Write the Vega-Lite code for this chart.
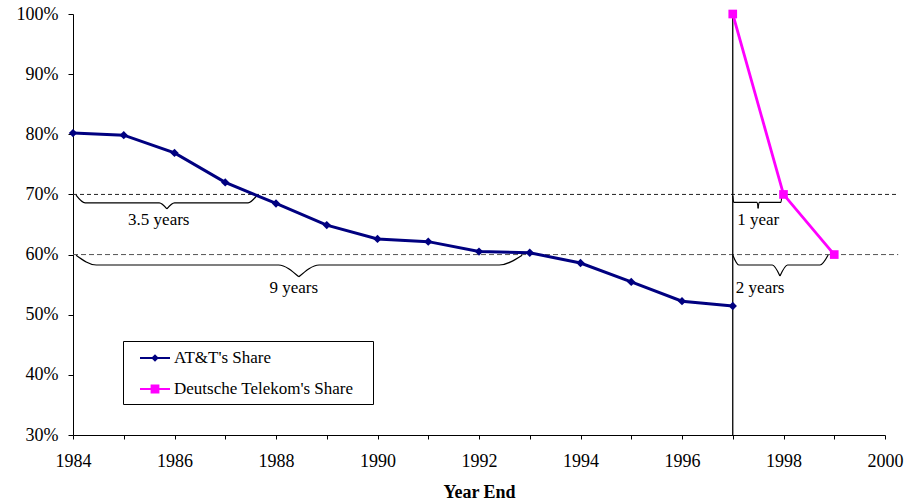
{
  "$schema": "https://vega.github.io/schema/vega-lite/v6.json",
  "width": 812,
  "height": 421,
  "autosize": "none",
  "padding": {"left": 73, "top": 14, "right": 21, "bottom": 69},
  "background": "white",
  "config": {
    "view": {"stroke": null},
    "font": "Liberation Serif",
    "axis": {"grid": false, "domainColor": "black", "tickColor": "black", "labelColor": "black", "titleColor": "black", "labelFont": "Liberation Serif", "titleFont": "Liberation Serif", "labelFontSize": 18}
  },
  "datasets": {
    "share": [
      {"series": "AT&T's Share", "year": 1984, "pct": 80.2},
      {"series": "AT&T's Share", "year": 1985, "pct": 79.85},
      {"series": "AT&T's Share", "year": 1986, "pct": 76.9},
      {"series": "AT&T's Share", "year": 1987, "pct": 72.0},
      {"series": "AT&T's Share", "year": 1988, "pct": 68.5},
      {"series": "AT&T's Share", "year": 1989, "pct": 64.9},
      {"series": "AT&T's Share", "year": 1990, "pct": 62.6},
      {"series": "AT&T's Share", "year": 1991, "pct": 62.15},
      {"series": "AT&T's Share", "year": 1992, "pct": 60.5},
      {"series": "AT&T's Share", "year": 1993, "pct": 60.3},
      {"series": "AT&T's Share", "year": 1994, "pct": 58.6},
      {"series": "AT&T's Share", "year": 1995, "pct": 55.45},
      {"series": "AT&T's Share", "year": 1996, "pct": 52.25},
      {"series": "AT&T's Share", "year": 1997, "pct": 51.45},
      {"series": "Deutsche Telekom's Share", "year": 1997, "pct": 100},
      {"series": "Deutsche Telekom's Share", "year": 1998, "pct": 70},
      {"series": "Deutsche Telekom's Share", "year": 1999, "pct": 60}
    ],
    "refs": [
      {"year": 1984, "year2": 2000.26, "pct": 70},
      {"year": 1984, "year2": 2000.26, "pct": 60}
    ],
    "vline": [
      {"year": 1997, "pct": 30, "pct2": 100}
    ],
    "braces": [
      {"brace": "b1L", "ord": 1, "year": 1984.06, "pct": 69.9},
      {"brace": "b1L", "ord": 2, "year": 1984.24, "pct": 68.6},
      {"brace": "b1L", "ord": 3, "year": 1985.7, "pct": 68.6},
      {"brace": "b1L", "ord": 4, "year": 1985.85, "pct": 67.6},
      {"brace": "b1R", "ord": 1, "year": 1985.85, "pct": 67.6},
      {"brace": "b1R", "ord": 2, "year": 1986.0, "pct": 68.6},
      {"brace": "b1R", "ord": 3, "year": 1987.45, "pct": 68.6},
      {"brace": "b1R", "ord": 4, "year": 1987.63, "pct": 69.9},
      {"brace": "b2L", "ord": 1, "year": 1984.06, "pct": 59.9},
      {"brace": "b2L", "ord": 2, "year": 1984.46, "pct": 58.27},
      {"brace": "b2L", "ord": 3, "year": 1988.05, "pct": 58.27},
      {"brace": "b2L", "ord": 4, "year": 1988.45, "pct": 56.3},
      {"brace": "b2R", "ord": 1, "year": 1988.45, "pct": 56.3},
      {"brace": "b2R", "ord": 2, "year": 1988.85, "pct": 58.27},
      {"brace": "b2R", "ord": 3, "year": 1992.4, "pct": 58.27},
      {"brace": "b2R", "ord": 4, "year": 1992.85, "pct": 59.9},
      {"brace": "b3L", "ord": 1, "year": 1997.0, "pct": 69.74},
      {"brace": "b3L", "ord": 2, "year": 1997.02, "pct": 68.69},
      {"brace": "b3L", "ord": 3, "year": 1997.48, "pct": 68.69},
      {"brace": "b3L", "ord": 4, "year": 1997.5, "pct": 67.69},
      {"brace": "b3R", "ord": 1, "year": 1997.5, "pct": 67.69},
      {"brace": "b3R", "ord": 2, "year": 1997.52, "pct": 68.69},
      {"brace": "b3R", "ord": 3, "year": 1997.95, "pct": 68.69},
      {"brace": "b3R", "ord": 4, "year": 1997.97, "pct": 70.07},
      {"brace": "b4L", "ord": 1, "year": 1997.0, "pct": 59.93},
      {"brace": "b4L", "ord": 2, "year": 1997.12, "pct": 58.27},
      {"brace": "b4L", "ord": 3, "year": 1997.78, "pct": 58.27},
      {"brace": "b4L", "ord": 4, "year": 1997.93, "pct": 56.44},
      {"brace": "b4R", "ord": 1, "year": 1997.93, "pct": 56.44},
      {"brace": "b4R", "ord": 2, "year": 1998.08, "pct": 58.27},
      {"brace": "b4R", "ord": 3, "year": 1998.72, "pct": 58.27},
      {"brace": "b4R", "ord": 4, "year": 1998.88, "pct": 59.93}
    ],
    "labels": [
      {"text": "3.5 years", "year": 1985.69, "pct": 64.92},
      {"text": "9 years", "year": 1988.35, "pct": 53.61},
      {"text": "1 year", "year": 1997.5, "pct": 64.92},
      {"text": "2 years", "year": 1997.54, "pct": 53.61}
    ]
  },
  "encoding": {
    "x": {
      "field": "year", "type": "quantitative",
      "scale": {"domain": [1984, 2000], "nice": false, "zero": false},
      "axis": {
        "values": [1984, 1985, 1986, 1987, 1988, 1989, 1990, 1991, 1992, 1993, 1994, 1995, 1996, 1997, 1998, 1999, 2000],
        "format": "d",
        "labelExpr": "datum.value % 2 == 0 ? datum.label : ''",
        "labelFlush": false, "labelOverlap": false,
        "labelFont": "Liberation Serif", "labelFontSize": 18,
        "tickSize": 4, "labelPadding": 13,
        "title": "Year End", "titleFont": "Liberation Serif", "titleFontSize": 18, "titleFontWeight": "bold", "titlePadding": 13
      }
    },
    "y": {
      "field": "pct", "type": "quantitative",
      "scale": {"domain": [30, 100], "nice": false, "zero": false},
      "axis": {
        "values": [30, 40, 50, 60, 70, 80, 90, 100],
        "labelExpr": "datum.value + '%'",
        "labelFont": "Liberation Serif", "labelFontSize": 18,
        "tickSize": 5, "labelPadding": 10, "title": null
      }
    }
  },
  "layer": [
    {
      "data": {"name": "refs"},
      "transform": [{"filter": "datum.pct == 70"}],
      "mark": {"type": "rule", "clip": false, "stroke": "#222222", "strokeWidth": 1, "strokeDash": [4, 3]},
      "encoding": {"x2": {"field": "year2"}}
    },
    {
      "data": {"name": "refs"},
      "transform": [{"filter": "datum.pct == 60"}],
      "mark": {"type": "rule", "clip": false, "stroke": "#555555", "strokeWidth": 1, "strokeDash": [5, 3]},
      "encoding": {"x2": {"field": "year2"}}
    },
    {
      "data": {"name": "vline"},
      "mark": {"type": "rule", "stroke": "black", "strokeWidth": 1.3},
      "encoding": {"y2": {"field": "pct2"}}
    },
    {
      "data": {"name": "braces"},
      "mark": {"type": "line", "interpolate": "monotone", "stroke": "black", "strokeWidth": 1.2},
      "encoding": {"detail": {"field": "brace"}, "order": {"field": "ord", "type": "quantitative"}}
    },
    {
      "data": {"name": "labels"},
      "mark": {"type": "text", "align": "center", "baseline": "alphabetic", "font": "Liberation Serif", "fontSize": 17, "color": "black"},
      "encoding": {"text": {"field": "text"}}
    },
    {
      "data": {"name": "share"},
      "transform": [{"filter": "datum.series == \"AT&T's Share\""}],
      "mark": {"type": "line", "stroke": "#000080", "strokeWidth": 3},
      "encoding": {}
    },
    {
      "data": {"name": "share"},
      "transform": [{"filter": "datum.series == \"AT&T's Share\""}],
      "mark": {"type": "point", "shape": "diamond", "filled": true, "fill": "#000080", "size": 70, "opacity": 1},
      "encoding": {}
    },
    {
      "data": {"name": "share"},
      "transform": [{"filter": "datum.series == \"Deutsche Telekom's Share\""}],
      "mark": {"type": "line", "stroke": "#ff00ff", "strokeWidth": 2.8},
      "encoding": {}
    },
    {
      "data": {"name": "share"},
      "transform": [{"filter": "datum.series == \"Deutsche Telekom's Share\""}],
      "mark": {"type": "point", "shape": "square", "filled": true, "fill": "#ff00ff", "size": 75, "opacity": 1},
      "encoding": {}
    },
    {
      "data": {"name": "share"},
      "mark": {"type": "point", "filled": true, "opacity": 0},
      "encoding": {
        "color": {
          "field": "series", "type": "nominal",
          "scale": {"domain": ["AT&T's Share", "Deutsche Telekom's Share"], "range": ["#000080", "#ff00ff"]},
          "legend": {"orient": "none", "legendX": 50, "legendY": 327, "title": null, "padding": 7, "strokeColor": "black", "fillColor": "white", "symbolSize": 400, "symbolOpacity": 1, "symbolStrokeWidth": 0, "labelFont": "Liberation Serif", "labelFontSize": 17, "labelColor": "black", "labelOffset": 24, "rowPadding": 13, "labelLimit": 400, "labelExpr": "datum.label + '\u2800'"}
        },
        "shape": {
          "field": "series", "type": "nominal",
          "scale": {"domain": ["AT&T's Share", "Deutsche Telekom's Share"], "range": ["M0,-0.1H3V0.1H0Z M1.5,-0.38L1.88,0L1.5,0.38L1.12,0Z", "M0,-0.1H3V0.1H0Z M1.06,-0.44H1.94V0.44H1.06Z"]},
          "legend": {"orient": "none", "legendX": 50, "legendY": 327, "title": null, "padding": 7, "strokeColor": "black", "fillColor": "white", "symbolSize": 400, "symbolOpacity": 1, "symbolStrokeWidth": 0, "labelFont": "Liberation Serif", "labelFontSize": 17, "labelColor": "black", "labelOffset": 24, "rowPadding": 13, "labelLimit": 400, "labelExpr": "datum.label + '\u2800'"}
        }
      }
    }
  ]
}
